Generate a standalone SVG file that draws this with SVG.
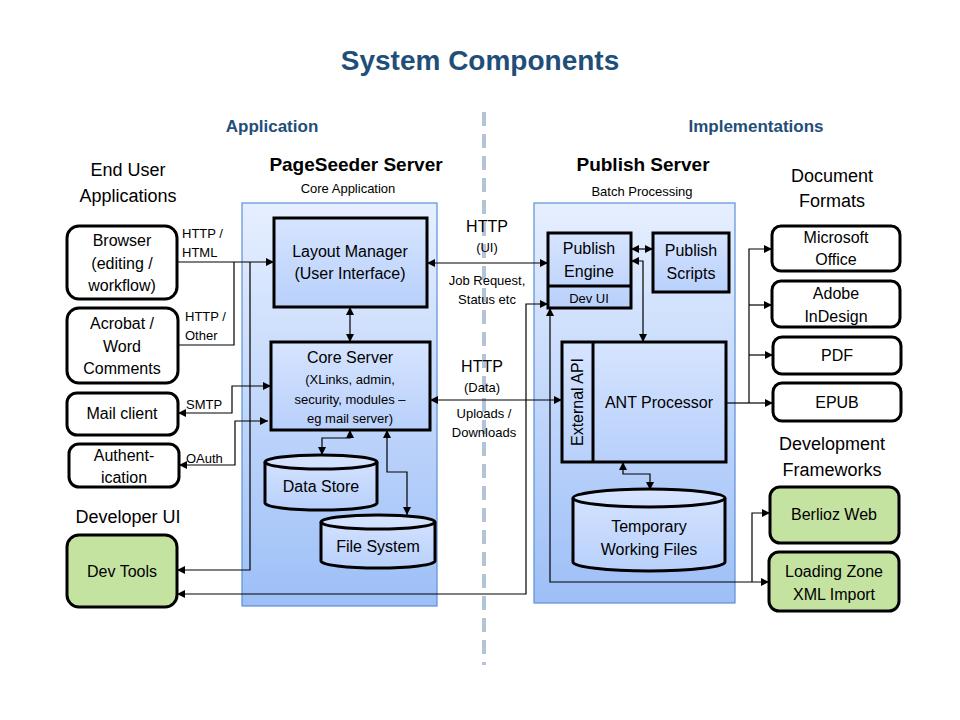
<svg xmlns="http://www.w3.org/2000/svg" width="960" height="720" viewBox="0 0 960 720">
<defs>
<linearGradient id="pg" x1="0" y1="0" x2="0" y2="1"><stop offset="0" stop-color="#e6efff"/><stop offset="1" stop-color="#9dbff7"/></linearGradient>
<linearGradient id="bg" x1="0" y1="0" x2="0" y2="1"><stop offset="0" stop-color="#d6e4ff"/><stop offset="1" stop-color="#b8d0fb"/></linearGradient>
<marker id="a" viewBox="0 0 10 10" refX="10" refY="5" markerWidth="7" markerHeight="7" orient="auto-start-reverse"><path d="M0,0L10,5L0,10z" fill="#000"/></marker>
</defs>
<style>
text{font-family:"Liberation Sans",Arial,sans-serif;fill:#000;text-anchor:middle}
.t{font-size:16px}.s{font-size:13px}.h{font-size:18px}
.b{font-weight:bold;fill:#1F4E79}
.box{fill:#fff;stroke:#000;stroke-width:3}
.g{fill:#c5e3a0}
.n{fill:url(#bg);stroke:#000;stroke-width:3}
.panel{fill:url(#pg);stroke:#5b8fd6;stroke-width:1.2}
.c path{fill:none;stroke:#000;stroke-width:1.2}
</style>
<rect width="960" height="720" fill="#fff"/>
<text x="480" y="70" class="b" style="font-size:28px">System Components</text>
<text x="272" y="132" class="b" style="font-size:17px">Application</text>
<text x="756" y="132" class="b" style="font-size:17px">Implementations</text>
<line x1="484" y1="112" x2="484" y2="665" stroke="#b4c4d8" stroke-width="4" stroke-dasharray="14,8"/>
<text x="128" y="176" class="h">End User</text><text x="128" y="202" class="h">Applications</text>
<text x="128" y="523" class="h">Developer  UI</text>
<text x="832" y="182" class="h">Document</text><text x="832" y="207" class="h">Formats</text>
<text x="832" y="450" class="h">Development</text><text x="832" y="476" class="h">Frameworks</text>
<g id="pageseeder"><rect class="panel" x="242" y="203" width="195" height="403"/>
<text x="356" y="171" style="font-size:19px;font-weight:bold">PageSeeder Server</text><text x="348" y="193" class="s">Core Application</text></g>
<g id="publish"><rect class="panel" x="534" y="203" width="201" height="400"/>
<text x="643" y="171" style="font-size:19px;font-weight:bold">Publish Server</text><text x="642" y="196" class="s">Batch Processing</text></g>
<g id="browser"><rect class="box" x="67" y="226" width="110" height="73" rx="12"/><text x="122" y="246" class="t">Browser</text><text x="122" y="269" class="t">(editing /</text><text x="122" y="291" class="t">workflow)</text></g>
<g id="acrobat"><rect class="box" x="67" y="308" width="111" height="75" rx="12"/><text x="122" y="329" class="t">Acrobat /</text><text x="122" y="352" class="t">Word</text><text x="122" y="374" class="t">Comments</text></g>
<g id="mail"><rect class="box" x="67" y="393" width="111" height="42" rx="10"/><text x="122" y="419" class="t">Mail client</text></g>
<g id="auth"><rect class="box" x="69" y="444" width="110" height="43" rx="10"/><text x="124" y="461" class="t">Authent-</text><text x="124" y="483" class="t">ication</text></g>
<g id="devtools"><rect class="box g" x="67" y="535" width="110" height="72" rx="12"/><text x="122" y="577" class="t">Dev Tools</text></g>
<g id="layout"><rect class="n" x="274" y="218" width="153" height="89"/><text x="350" y="257" class="t">Layout Manager</text><text x="350" y="279" class="t">(User Interface)</text></g>
<g id="core"><rect class="n" x="271" y="342" width="159" height="88"/><text x="350" y="363" class="t">Core Server</text><text x="350" y="384" class="s">(XLinks, admin,</text><text x="350" y="404" class="s">security, modules –</text><text x="350" y="423" class="s">eg mail server)</text></g>
<g id="datastore"><path class="n" d="M265,462a56,7 0 0 1 112,0v41a56,7 0 0 1 -112,0z"/><path d="M265,462a56,7 0 0 0 112,0" fill="none" stroke="#000" stroke-width="3"/><text x="321" y="492" class="t">Data Store</text></g>
<g id="filesystem"><path class="n" d="M321,522a57,7 0 0 1 114,0v39a57,7 0 0 1 -114,0z"/><path d="M321,522a57,7 0 0 0 114,0" fill="none" stroke="#000" stroke-width="3"/><text x="378" y="552" class="t">File System</text></g>
<g id="engine"><rect class="n" x="548" y="233" width="83" height="75"/><line x1="548" y1="286" x2="631" y2="286" stroke="#000" stroke-width="3"/><text x="589" y="254" class="t">Publish</text><text x="589" y="277" class="t">Engine</text><text x="589" y="303" class="s">Dev UI</text></g>
<g id="scripts"><rect class="n" x="653" y="233" width="76" height="59"/><text x="691" y="256" class="t">Publish</text><text x="691" y="279" class="t">Scripts</text></g>
<g id="ant"><rect class="n" x="562" y="342" width="164" height="120"/><line x1="593" y1="342" x2="593" y2="462" stroke="#000" stroke-width="3"/><text x="659" y="408" class="t">ANT Processor</text><text transform="translate(583,402) rotate(-90)" class="t">External API</text></g>
<g id="temp"><path class="n" d="M573,498a76,9 0 0 1 152,0v64a76,9 0 0 1 -152,0z"/><path d="M573,498a76,9 0 0 0 152,0" fill="none" stroke="#000" stroke-width="3"/><text x="649" y="532" class="t">Temporary</text><text x="649" y="555" class="t">Working Files</text></g>
<g id="msoffice"><rect class="box" x="772" y="226" width="128" height="45" rx="9"/><text x="836" y="243" class="t">Microsoft</text><text x="836" y="265" class="t">Office</text></g>
<g id="adobe"><rect class="box" x="772" y="281" width="128" height="46" rx="9"/><text x="836" y="299" class="t">Adobe</text><text x="836" y="322" class="t">InDesign</text></g>
<g id="pdf"><rect class="box" x="773" y="337" width="128" height="37" rx="9"/><text x="837" y="361" class="t">PDF</text></g>
<g id="epub"><rect class="box" x="773" y="383" width="128" height="38" rx="9"/><text x="837" y="408" class="t">EPUB</text></g>
<g id="berlioz"><rect class="box g" x="770" y="487" width="129" height="56" rx="10"/><text x="834" y="520" class="t">Berlioz Web</text></g>
<g id="loading"><rect class="box g" x="769" y="552" width="130" height="59" rx="10"/><text x="834" y="577" class="t">Loading Zone</text><text x="834" y="600" class="t">XML Import</text></g>
<g class="c" id="connectors">
<path d="M177,262H274" marker-end="url(#a)"/>
<path d="M178,345H234V262"/>
<path d="M250,262V570H177" marker-end="url(#a)"/>
<path d="M178,413H232V386H271" marker-start="url(#a)" marker-end="url(#a)"/>
<path d="M179,465H235V421H268" marker-start="url(#a)" marker-end="url(#a)"/>
<path d="M350,307V342" marker-start="url(#a)" marker-end="url(#a)"/>
<path d="M350,430V438H322V455" marker-start="url(#a)" marker-end="url(#a)"/>
<path d="M387,430V472H407V515" marker-start="url(#a)" marker-end="url(#a)"/>
<path d="M427,263H548" marker-start="url(#a)" marker-end="url(#a)"/>
<path d="M430,400H562" marker-start="url(#a)" marker-end="url(#a)"/>
<path d="M548,304H526V594H177" marker-start="url(#a)" marker-end="url(#a)" stroke="#444"/>
<path d="M631,249H653" marker-start="url(#a)" marker-end="url(#a)"/>
<path d="M631,261H643V342" marker-start="url(#a)" marker-end="url(#a)"/>
<path d="M623,462V474H650V490" marker-start="url(#a)" marker-end="url(#a)"/>
<path d="M550,308V582H769" marker-start="url(#a)" marker-end="url(#a)"/>
<path d="M752,582V513H770" marker-end="url(#a)"/>
<path d="M726,403H749"/>
<path d="M749,403V249H772" marker-end="url(#a)"/>
<path d="M749,305H772" marker-end="url(#a)"/>
<path d="M749,355H773" marker-end="url(#a)"/>
<path d="M749,403H773" marker-end="url(#a)"/>
</g>
<text x="202" y="238" class="s" style="text-anchor:start" transform="translate(-20,0)">HTTP /</text>
<text x="182" y="257" class="s" style="text-anchor:start">HTML</text>
<text x="185" y="321" class="s" style="text-anchor:start">HTTP /</text>
<text x="185" y="340" class="s" style="text-anchor:start">Other</text>
<text x="186" y="409" class="s" style="text-anchor:start">SMTP</text>
<text x="186" y="463" class="s" style="text-anchor:start">OAuth</text>
<text x="487" y="232" class="t">HTTP</text><text x="487" y="252" class="s">(UI)</text>
<text x="487" y="285" class="s">Job Request,</text><text x="487" y="304" class="s">Status etc</text>
<text x="482" y="372" class="t">HTTP</text><text x="482" y="392" class="s">(Data)</text>
<text x="484" y="418" class="s">Uploads /</text><text x="484" y="437" class="s">Downloads</text>
</svg>
